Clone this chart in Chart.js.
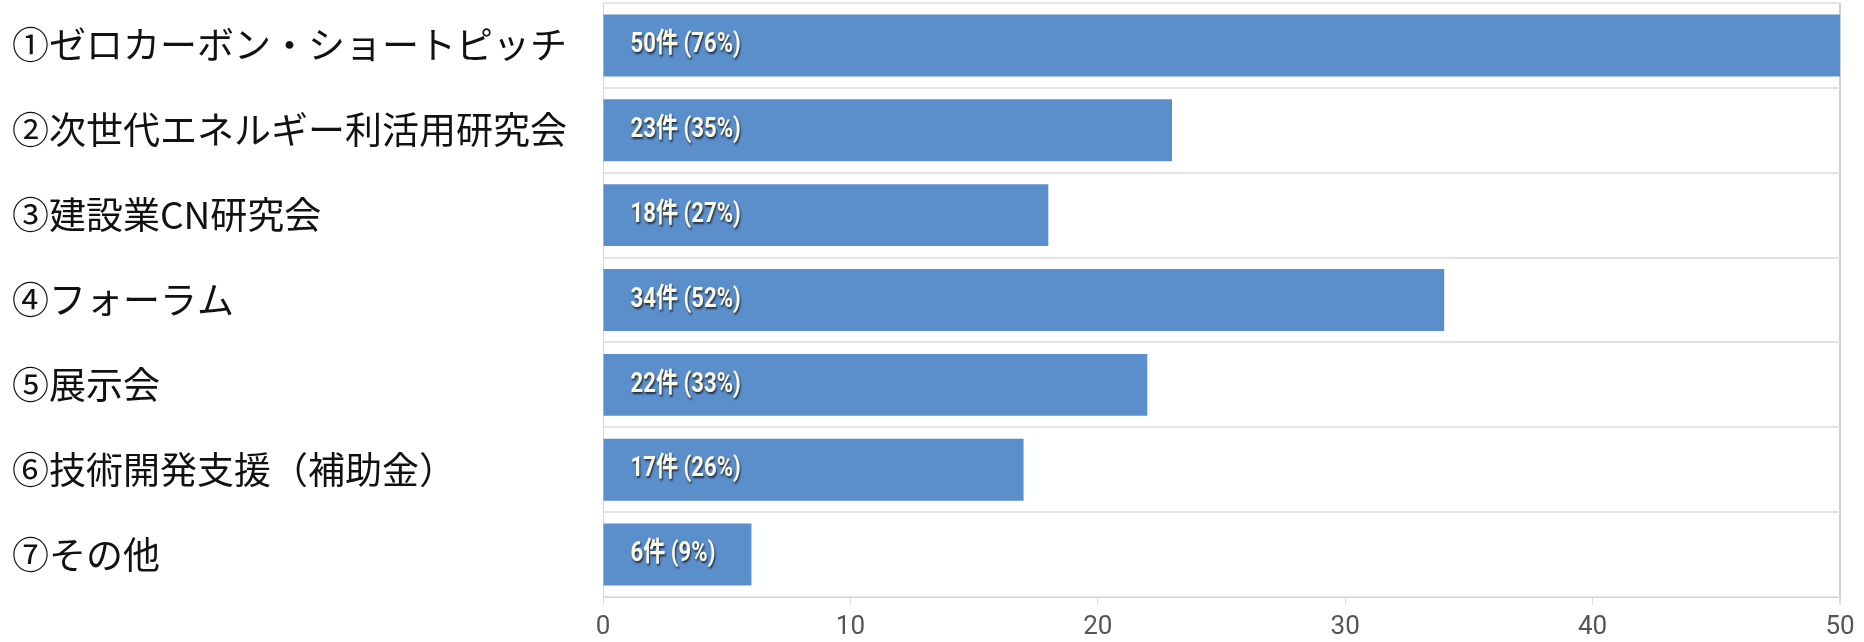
<!DOCTYPE html>
<html lang="ja">
<head>
  <meta charset="UTF-8">
  <title>参加希望</title>
  <script src="https://cdn.jsdelivr.net/npm/chart.js"></script>
  <style>
    body {
      background-color: white;
      margin: 0;
      padding: 0;
    }

    #wrap {
      width: 1864px;
      height: 642px;
      position: relative;
    }
  </style>
</head>
<body>

  <div id="wrap">
    <canvas id="grafico"></canvas>
  </div>

  <script>
    // datos
    const categorias = [
      '①ゼロカーボン・ショートピッチ',
      '②次世代エネルギー利活用研究会',
      '③建設業CN研究会',
      '④フォーラム',
      '⑤展示会',
      '⑥技術開発支援（補助金）',
      '⑦その他'
    ];
    const cantidades = [50, 23, 18, 34, 22, 17, 6];
    const porcentajes = [76, 35, 27, 52, 33, 26, 9];
    const ticksX = [0, 10, 20, 30, 40, 50];

    const fuenteNum = "'Roboto', 'Noto Sans CJK JP', sans-serif";

    // etiquetas dentro de las barras (texto estrechado a mano)
    const etiquetasBarras = {
      id: 'etiquetasBarras',
      afterDatasetsDraw(chart) {
        const ctx = chart.ctx;
        const meta = chart.getDatasetMeta(0);
        meta.data.forEach((bar, i) => {
          const texto = cantidades[i] + '件 (' + porcentajes[i] + '%)';
          ctx.save();
          ctx.translate(bar.base + 27, bar.y);
          ctx.scale(0.82, 1);
          ctx.font = "bold 27px " + fuenteNum;
          ctx.textAlign = 'left';
          ctx.textBaseline = 'middle';
          ctx.shadowColor = 'rgba(20,30,50,0.85)';
          ctx.shadowOffsetX = 1;
          ctx.shadowOffsetY = 2;
          ctx.shadowBlur = 2;
          ctx.fillStyle = '#fdf9e2';
          ctx.fillText(texto, 0, 0);
          ctx.restore();
        });
      }
    };

    const ctx = document.getElementById('grafico').getContext('2d');
    const chart = new Chart(ctx, {
      type: 'bar',
      data: {
        labels: categorias,
        datasets: [{
          data: cantidades,
          backgroundColor: '#5b8fcb',
          borderWidth: 0,
          barPercentage: 0.73,
          categoryPercentage: 1
        }]
      },
      options: {
        indexAxis: 'y',
        responsive: true,
        maintainAspectRatio: false,
        animation: false,
        layout: {
          padding: { left: 12, right: 24, top: 3, bottom: 0 }
        },
        plugins: {
          legend: { display: false },
          tooltip: { enabled: false }
        },
        scales: {
          x: {
            min: 0,
            max: 50,
            afterBuildTicks: (scale) => {
              scale.ticks = ticksX.map(v => ({ value: v }));
            },
            afterFit: (scale) => {
              scale.height = 45;
            },
            grid: {
              color: (c) => (c.tick && c.tick.value === 50) ? '#cfcfcf' : 'rgba(0,0,0,0)',
              lineWidth: (c) => (c.tick && c.tick.value === 50) ? 2 : 1,
              tickColor: '#dcdcdc',
              tickLength: 8,
              drawTicks: true
            },
            border: { color: '#d6d6d6', width: 1 },
            ticks: {
              color: '#555',
              padding: 7,
              font: { family: "'Roboto', sans-serif", size: 26 }
            }
          },
          y: {
            afterFit: (scale) => {
              scale.width = 591;
              scale.paddingTop = 0;
              scale.paddingBottom = 0;
            },
            grid: {
              color: '#e4e4e4',
              lineWidth: 2,
              drawTicks: false
            },
            border: { color: '#d6d6d6', width: 1 },
            ticks: {
              crossAlign: 'far',
              color: '#111',
              padding: 0,
              font: { family: "'Noto Sans CJK JP', sans-serif", size: 37 }
            }
          }
        }
      },
      plugins: [etiquetasBarras]
    });
  </script>

</body>
</html>
